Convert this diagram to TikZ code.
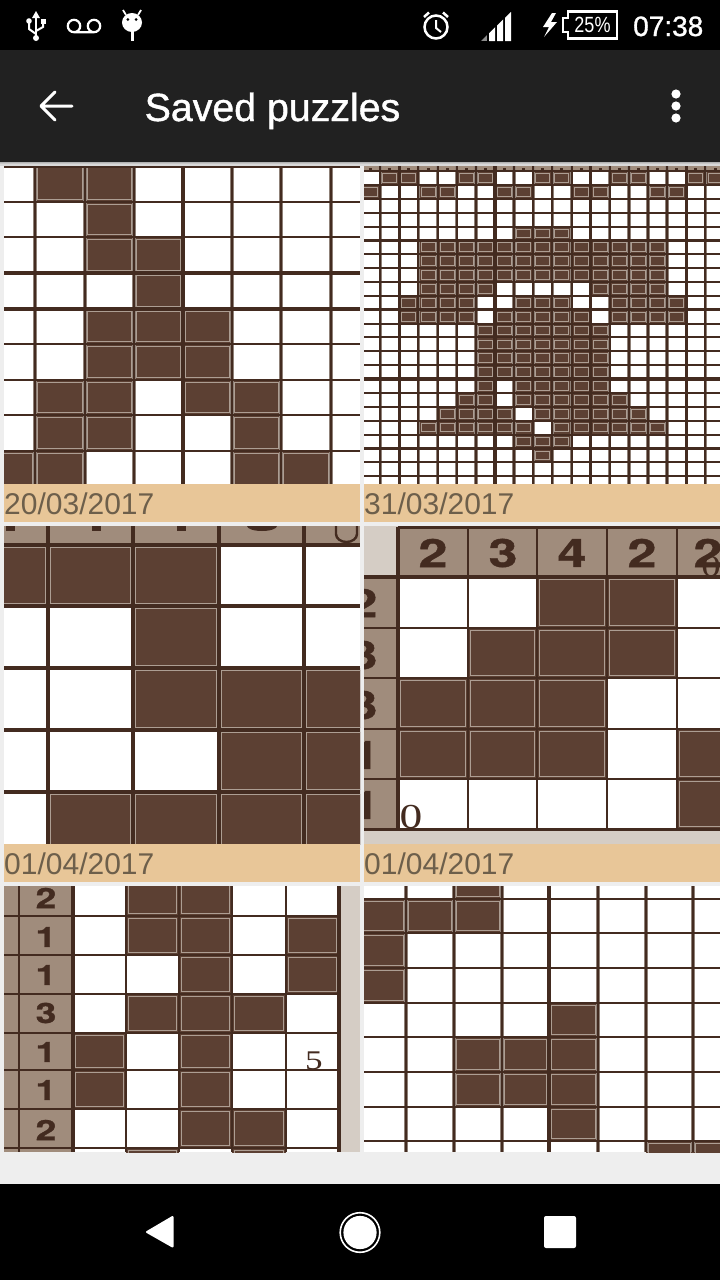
\documentclass[tikz,border=0pt]{standalone}
\usepackage{fontspec}
\setmainfont{Liberation Sans}
\newfontface\titlefont[FakeBold=1.1]{Liberation Sans}
\newfontface\serifdigit{Liberation Serif}
\newfontface\cluefont[FakeBold=1]{TeX Gyre Heros Bold}
\definecolor{pageback}{HTML}{EEEEEE}
\definecolor{appbar}{HTML}{212121}
\definecolor{labelback}{HTML}{E8C698}
\definecolor{labelink}{HTML}{6D5F4B}
\definecolor{ink}{HTML}{5C4033}
\definecolor{lineink}{HTML}{432B20}
\definecolor{halo}{HTML}{8F8178}
\definecolor{cellrim}{HTML}{AD9E93}
\definecolor{clue}{HTML}{A08C7C}
\definecolor{pale}{HTML}{D5CDC5}
\tikzset{
  x=1pt,y=-1pt,
  pzfill/.style={fill=ink,draw=cellrim,line width=\pzrim pt},
  gl/.style={draw=lineink,line width=2pt},
  glhalo/.style={draw=halo,line width=3.4pt},
  glthick/.style={draw=lineink,line width=3.4pt},
  dlabel/.style={anchor=base west,inner sep=0pt,text=labelink,font=\fontsize{30}{30}\selectfont},
  boldclue/.style={inner sep=0pt,text=lineink,font=\cluefont\fontsize{#1}{#1}\selectfont,xscale=1.33},
  serifmark/.style={inner sep=0pt,text=lineink,xscale=1.3,font=\serifdigit\fontsize{#1}{#1}\selectfont},
  wicon/.style={draw=white,line width=2.5pt},
  wfill/.style={fill=white}
}
\def\pzinset{2.3}
\def\pzrim{0.8}
\newcommand{\setgrid}[2]{\def\xs{#1}\def\ys{#2}}
\newcommand{\pzrow}[2]{\foreach \cc in {#2}{%
  \pgfmathsetmacro\xa{{\xs}[\cc]}%
  \pgfmathsetmacro\xb{{\xs}[\cc+1]}%
  \pgfmathsetmacro\ya{{\ys}[#1]}%
  \pgfmathsetmacro\yb{{\ys}[#1+1]}%
  \fill[ink] (\xa,\ya) rectangle (\xb,\yb);
  \draw[pzfill] (\xa+\pzinset,\ya+\pzinset) rectangle (\xb-\pzinset,\yb-\pzinset);}}
\newcommand{\vlines}[3]{\foreach \gx in {#1}{\draw[glhalo] (\gx,#2)--(\gx,#3);\draw[gl] (\gx,#2)--(\gx,#3);}}
\newcommand{\hlines}[3]{\foreach \gy in {#1}{\draw[gl] (#2,\gy)--(#3,\gy);}}
\begin{document}
\begin{tikzpicture}
\useasboundingbox (0,0) rectangle (720,1280);
\fill[pageback] (0,0) rectangle (720,1280);
% bars
\fill[black] (0,0) rectangle (720,50);
\fill[appbar] (0,50) rectangle (720,162);
\fill[black!30] (0,162) rectangle (720,163);
\fill[black!22] (0,163) rectangle (720,164);
\fill[black!15] (0,164) rectangle (720,166);
\fill[black] (0,1184) rectangle (720,1280);

% ---- tile 1
\begin{scope}
\clip (4,166) rectangle (360,484);
\fill[white] (4,166) rectangle (360,484);
\setgrid{0,35,85,134,183,232,281,331,370}{164,202,237,273,309,344,380,415,451,490}
\pzrow{0}{1,2}\pzrow{1}{2}\pzrow{2}{2,3}\pzrow{3}{3}\pzrow{4}{2,3,4}\pzrow{5}{2,3,4}
\pzrow{6}{1,2,4,5}\pzrow{7}{1,2,5}\pzrow{8}{0,1,5,6}
\vlines{35,85,134,232,281,331}{166}{484}
\draw[glthick] (183,166)--(183,484);
\hlines{166.5,202,237,344,380,415,451}{4}{360}
\draw[glthick] (4,273)--(360,273) (4,309)--(360,309);
\end{scope}
\fill[labelback] (4,484) rectangle (360,522);
\node[dlabel] (d1) at (4,514) {20/03/2017};

% ---- tile 2
\begin{scope}
\def\pzinset{2.6}
\def\pzrim{1}
\clip (364,166) rectangle (720,484);
\fill[white] (364,166) rectangle (720,484);
\fill[clue] (364,166) rectangle (720,171);
\setgrid{358,380.2,399.3,418.4,437.6,456.7,475.8,494.9,514.1,533.2,552.3,571.5,590.6,609.7,628.8,648,667.1,686.2,705.4,724.5}
{171,184.9,198.7,212.6,226.5,240.3,254.2,268.1,281.9,295.8,309.7,323.6,337.4,351.3,365.2,379,392.9,406.8,420.6,434.5,448.4,462.2,476.1,490}
\pzrow{0}{1,2,5,6,9,10,13,14,17,18}
\pzrow{1}{0,3,4,7,8,11,12,15,16}
\pzrow{4}{8,9,10}
\pzrow{5}{3,4,5,6,7,8,9,10,11,12,13,14,15}
\pzrow{6}{3,4,5,6,7,8,9,10,11,12,13,14,15}
\pzrow{7}{3,4,5,6,7,8,9,10,11,12,13,14,15}
\pzrow{8}{3,4,5,6,12,13,14,15}
\pzrow{9}{2,3,4,5,8,9,10,13,14,15,16}
\pzrow{10}{2,3,4,5,7,8,9,10,11,13,14,15,16}
\pzrow{11}{6,7,8,9,10,11,12}
\pzrow{12}{6,7,8,9,10,11,12}
\pzrow{13}{6,7,8,9,10,11,12}
\pzrow{14}{6,7,8,9,10,11,12}
\pzrow{15}{6,8,9,10,11,12}
\pzrow{16}{5,6,8,9,10,11,12,13}
\pzrow{17}{4,5,6,7,9,10,11,12,13,14}
\pzrow{18}{3,4,5,6,7,8,10,11,12,13,14,15}
\pzrow{19}{8,9,10}
\pzrow{20}{9}
\vlines{380.2,418.4,437.6,456.7,475.8,514.1,533.2,552.3,571.5,609.7,628.8,648,667.1,705.4}{166}{484}
\foreach \gx in {399.3,494.9,590.6,686.2}{\draw[glthick] (\gx,166)--(\gx,484);}
\foreach \gx in {370,389.7,408.9,428,447.1,466.3,485.4,504.5,523.6,542.8,561.9,581,600.2,619.3,638.4,657.5,676.7,695.8,715}
  {\fill[lineink] (\gx-1.5,167.5) rectangle (\gx+1.5,170);}
\hlines{171,184.9,198.7,212.6,226.5,254.2,268.1,281.9,295.8,323.6,337.4,351.3,365.2,392.9,406.8,420.6,434.5,462.2,476.1}{364}{720}
\foreach \gy in {240.3,309.7,379,448.4}{\draw[glthick] (364,\gy)--(720,\gy);}
\end{scope}
\fill[labelback] (364,484) rectangle (720,522);
\node[dlabel] (d2) at (364,514) {31/03/2017};

% ---- tile 3
\begin{scope}
\clip (4,526) rectangle (360,844);
\fill[white] (4,526) rectangle (360,844);
\fill[clue] (4,526) rectangle (360,545);
\setgrid{-2,48,133,219,304,370}{545,606,668,730,792,850}
\pzrow{0}{0,1,2}\pzrow{1}{2}\pzrow{2}{2,3,4}\pzrow{3}{3,4}\pzrow{4}{1,2,3,4}
\foreach \gx in {48,133,219,304}{\draw[glthick] (\gx,526)--(\gx,844);}
\draw[glthick,line width=4pt] (4,545)--(360,545);
\foreach \gy in {606,668,730,792}{\draw[glthick] (4,\gy)--(360,\gy);}
\foreach \gx in {10.5,96.5,181.5}{\fill[lineink] (\gx-4.5,526) rectangle (\gx+4.5,531);}
\fill[lineink] (247,526) arc[start angle=180,end angle=0,x radius=15,y radius=5] -- cycle;
\draw[lineink,line width=2.4pt] (336,524)--(336,534) arc[start angle=180,end angle=0,x radius=10.5,y radius=8] --(357,524);
\end{scope}
\fill[labelback] (4,844) rectangle (360,882);
\node[dlabel] (d3) at (4,874) {01/04/2017};

% ---- tile 4
\begin{scope}
\clip (364,526) rectangle (720,844);
\fill[white] (364,526) rectangle (720,844);
\fill[pale] (364,526) rectangle (398,576);
\fill[clue] (398,526) rectangle (720,577);
\fill[clue] (364,577) rectangle (398,830);
\fill[pale] (364,830) rectangle (720,844);
\setgrid{398,468,537,607,677,730}{577,628,678,729,779,829}
\pzrow{0}{2,3}\pzrow{1}{1,2,3}\pzrow{2}{0,1,2}\pzrow{3}{0,1,2,4}\pzrow{4}{4}
\node[boldclue=39] (t41) at (433,553) {2};
\node[boldclue=39] (t42) at (503,553) {3};
\node[boldclue=39] (t43) at (572,553) {4};
\node[boldclue=39] (t44) at (642,553) {2};
\node[boldclue=39] (t45) at (708,553) {2};
\node[serifmark=30] (t46) at (711,567) {0};
\node[boldclue=39] (t47) at (363,603) {2};
\node[boldclue=39] (t48) at (363,655) {3};
\node[boldclue=39] (t49) at (363,705) {3};
\node[boldclue=39] (t410) at (365,755) {1};
\node[boldclue=39] (t411) at (365,805) {1};
\node[serifmark=35] (t412) at (411,817) {0};
\foreach \gx in {398}{\draw[glthick] (\gx,527)--(\gx,829);}
\foreach \gx in {468,537,607,677}{\draw[gl,line width=2.8pt] (\gx,527)--(\gx,829);}
\draw[glthick] (398,527.5)--(720,527.5);
\draw[glthick] (364,577)--(720,577);
\foreach \gy in {628,678,729,779}{\draw[gl,line width=2.6pt] (364,\gy)--(720,\gy);}
\draw[glthick] (364,829.5)--(720,829.5);
\end{scope}
\fill[labelback] (364,844) rectangle (720,882);
\node[dlabel] (d4) at (364,874) {01/04/2017};

% ---- tile 5
\begin{scope}
\clip (4,886) rectangle (360,1152);
\fill[white] (4,886) rectangle (360,1152);
\fill[clue] (4,886) rectangle (73,1152);
\fill[pale] (339,886) rectangle (360,1152);
\setgrid{73,126,179,232,286,339}{880,916,955,994,1033,1070,1109,1148,1160}
\pzrow{0}{1,2}\pzrow{1}{1,2,4}\pzrow{2}{2,4}\pzrow{3}{1,2,3}\pzrow{4}{0,2}\pzrow{5}{0,2}\pzrow{6}{2,3}\pzrow{7}{1,3}
\node[boldclue=28] (t51) at (46,898) {2};
\node[boldclue=28] (t52) at (46,937) {1};
\node[boldclue=28] (t53) at (46,975) {1};
\node[boldclue=28] (t54) at (46,1013) {3};
\node[boldclue=28] (t55) at (46,1052) {1};
\node[boldclue=28] (t56) at (46,1090) {1};
\node[boldclue=28] (t57) at (46,1130) {2};
\node[serifmark=27] (t58) at (314,1061) {5};
\draw[gl] (18.5,886)--(18.5,1152);
\draw[glthick] (73,886)--(73,1152);
\foreach \gx in {126,179,232,286}{\draw[gl,line width=2.8pt] (\gx,886)--(\gx,1152);}
\draw[glthick] (339,886)--(339,1152);
\hlines{916,955,1033,1109,1148}{4}{339}
\draw[glthick,line width=2.6pt] (4,994)--(339,994) (4,1070)--(339,1070);
\end{scope}

% ---- tile 6
\begin{scope}
\clip (364,886) rectangle (720,1152);
\fill[white] (364,886) rectangle (720,1152);
\setgrid{358,406,454,502,549,598,646,693,730}{880,899,933,968,1003,1037,1072,1107,1141,1160}
\pzrow{0}{2}\pzrow{1}{0,1,2}\pzrow{2}{0}\pzrow{3}{0}\pzrow{4}{4}\pzrow{5}{2,3,4}\pzrow{6}{2,3,4}\pzrow{7}{4}\pzrow{8}{6,7}
\vlines{406,454,502,598,646,693}{886}{1152}
\draw[glthick,line width=4pt] (549,886)--(549,1152);
\hlines{899,933,968,1003,1072,1107,1141}{364}{720}
\draw[glthick,line width=2.8pt] (364,1037)--(720,1037);
\end{scope}

% ---- status bar icons
\draw[wicon] (36,15)--(36,38);
\fill[wfill] (32,18)--(36,11)--(40,18)--cycle;
\fill[wfill] (36,38) circle[radius=3];
\draw[wicon,line width=2pt] (36,34)--(29,29)--(29,23);
\fill[wfill] (29,21) circle[radius=2.8];
\draw[wicon,line width=2pt] (36,31)--(43,27)--(43,23);
\fill[wfill] (40.5,19) rectangle (45.5,24);
\draw[wicon,line width=2.2pt] (74,26) circle[radius=6.2] (94,26) circle[radius=6.2] (74,32.2)--(94,32.2);
\fill[wfill] (132,22.5) ellipse[x radius=10,y radius=9.5];
\draw[wicon,line width=1.8pt] (126,15)--(123,10) (138,15)--(141,10);
\fill[wfill] (130.5,30) rectangle (133.5,41);
\fill[black] (127.8,19.5) circle[radius=1.5] (136.2,19.5) circle[radius=1.5];
\draw[wicon] (436,27) circle[radius=11.5];
\draw[wicon,line width=2pt] (436,20)--(436,28)--(441,32);
\draw[wicon] (424,17)--(429,12.5) (443,12.5)--(448,17);
\begin{scope}
\clip (481,41)--(511,12)--(511,41)--cycle;
\fill[white!55!black] (481,12) rectangle (487,41);
\fill[wfill] (489,12) rectangle (495,41) (497,12) rectangle (503,41) (505,12) rectangle (511,41);
\end{scope}
\fill[wfill] (552,13)--(543,27)--(549,27)--(544,37)--(557,22)--(551,22)--(556,13)--cycle;
\draw[wicon] (568,11.5)--(617,11.5)--(617,38.5)--(568,38.5)--(568,32)--(563,32)--(563,18)--(568,18)--cycle;
\node[inner sep=0pt,text=white,xscale=.82,font=\fontsize{22}{22}\selectfont] (batt) at (592.5,25) {25\%};
\node[anchor=base west,inner sep=0pt,text=white,font=\titlefont\fontsize{28}{28}\selectfont] (clock) at (633,36) {07:38};

% ---- app bar
\draw[white,line width=3pt,line cap=round,line join=round] (72,106)--(42,106) (55,92)--(41,106)--(55,120);
\node[anchor=base west,inner sep=0pt,text=white,font=\titlefont\fontsize{39.3}{39.3}\selectfont] (title) at (144.5,121) {Saved puzzles};
\fill[wfill] (676,94) circle[radius=4.6] (676,106) circle[radius=4.6] (676,118) circle[radius=4.6];

% ---- navigation bar
\fill[wfill,draw=white,line width=2pt,line join=round] (172.5,1217)--(147,1232)--(172.5,1246.5)--cycle;
\draw[white,line width=1.6pt] (360,1232.5) circle[radius=19.8];
\fill[wfill] (360,1232.5) circle[radius=16.6];
\fill[wfill,rounded corners=2pt] (544,1216) rectangle (576,1248);
\end{tikzpicture}
\end{document}
